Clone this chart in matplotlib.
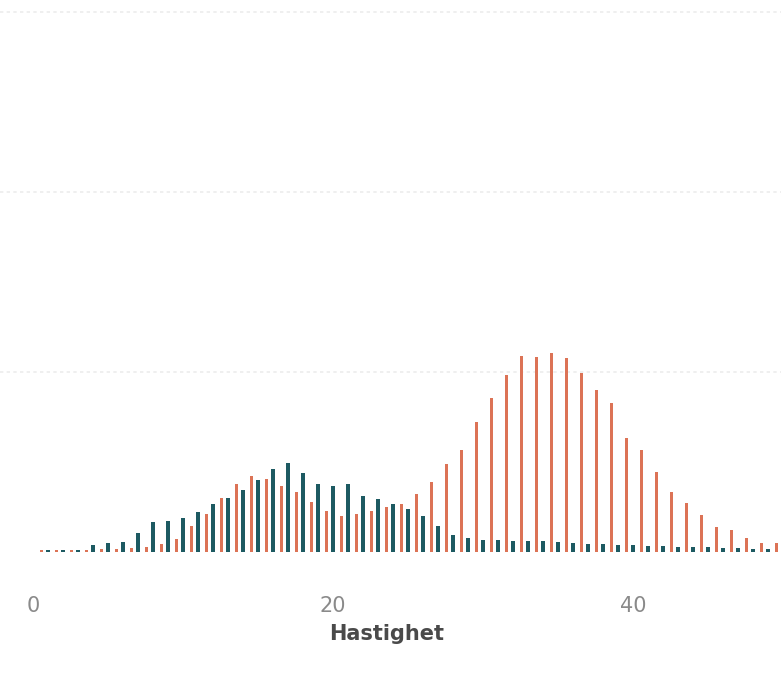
import matplotlib
matplotlib.use("Agg")
import matplotlib.pyplot as plt
import numpy as np

speeds = list(range(0, 51))
teal_vals = [0, 11, 11, 11, 39, 50, 56, 106, 167, 172,
             189, 222, 267, 300, 344, 400, 461, 494, 439, 378,
             367, 378, 311, 294, 267, 239, 200, 144, 94, 78,
             67, 67, 61, 61, 61, 56, 50, 44, 44, 39,
             39, 33, 33, 28, 28, 28, 22, 22, 17, 17, 17]
orange_vals = [0, 11, 11, 11, 11, 17, 17, 22, 28, 44,
               72, 144, 211, 300, 378, 422, 406, 367, 333, 278,
               228, 200, 211, 228, 250, 267, 322, 389, 489, 567,
               722, 856, 983, 1089, 1083, 1106, 1078, 994, 900, 828,
               633, 567, 444, 333, 272, 206, 139, 122, 78, 50, 50]
xtick_vals = [0, 20, 40]
xtick_labels = ["0", "20", "40"]
grid_vals = [1000, 2000, 3000]
x_label = "Hastighet"

teal = "#1d5a62"
orange = "#dc7356"

W, H = 781, 679
fig = plt.figure(figsize=(W / 100, H / 100), dpi=100)
base_px = 552
ax = fig.add_axes([0, (H - base_px) / H, 1, base_px / H])

x = np.array(speeds, dtype=float)
bw = 0.22
ax.bar(x - 0.43, orange_vals, width=bw, color=orange, linewidth=0, zorder=2)
ax.bar(x, teal_vals, width=bw, color=teal, linewidth=0, zorder=3)

# y scale: 180 px per 1000
ax.set_ylim(0, base_px / 180 * 1000)
ax.set_xlim(-33 / 15, (W - 33) / 15)

for g in grid_vals:
    ax.axhline(g, color="#ececec", linewidth=1.2, linestyle=(0, (2, 2)), zorder=1)

ax.set_yticks([])
ax.set_xticks([])
for s in ax.spines.values():
    s.set_visible(False)
ax.patch.set_alpha(0)

for v, lab in zip(xtick_vals, xtick_labels):
    fig.text((33 + 15 * v) / W, 1 - 606 / H, lab, ha="center", va="center",
             fontsize=15, color="#8a8a8a", family="DejaVu Sans")

fig.text(387 / W, 1 - 634 / H, x_label, ha="center", va="center",
         fontsize=15, color="#4a4a4a", fontweight="bold", family="DejaVu Sans")

fig.savefig("out.png", dpi=100, facecolor="white")
